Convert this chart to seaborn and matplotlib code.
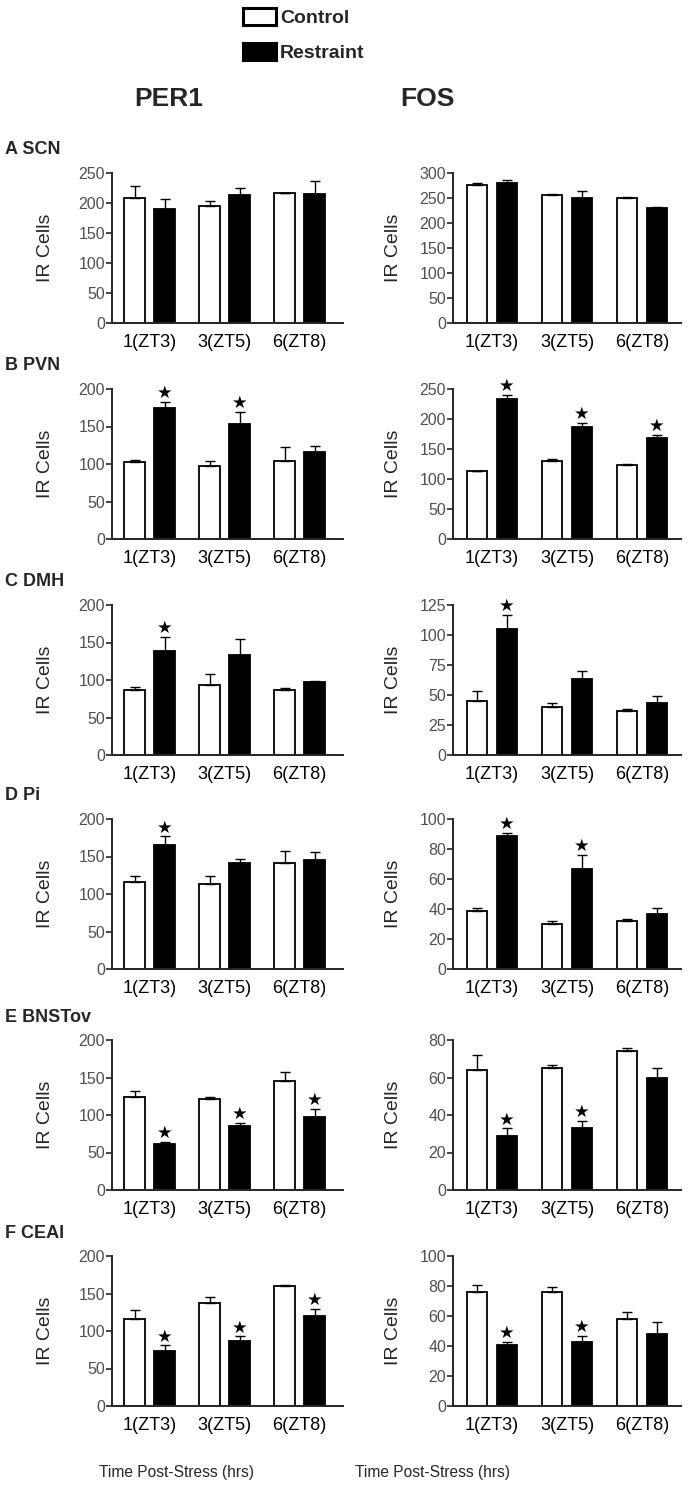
import numpy as np
import pandas as pd
import matplotlib
matplotlib.use('Agg')
import matplotlib.pyplot as plt
import seaborn as sns

# categories
times = ['1(ZT3)', '3(ZT5)', '6(ZT8)']
groups = ['Control', 'Restraint']
regions = ['A SCN', 'B PVN', 'C DMH', 'D Pi', 'E BNSTov', 'F CEAl']

# PER1 immunoreactive cells (mean, sem), one row per region
per1_ctrl = [[209, 195, 217], [103, 97, 104], [87, 93, 87], [116, 114, 142], [124, 121, 146], [116, 137, 160]]
per1_ctrl_err = [[19, 8, 0], [3, 7, 19], [4, 15, 3], [8, 10, 16], [8, 3, 12], [12, 8, 2]]
per1_rest = [[190, 213, 215], [175, 153, 116], [139, 134, 98], [165, 142, 145], [62, 86, 98], [73, 87, 120]]
per1_rest_err = [[17, 12, 22], [8, 17, 8], [19, 21, 1], [12, 5, 11], [2, 4, 10], [8, 6, 10]]
per1_sig = [[0, 0, 0], [1, 1, 0], [1, 0, 0], [1, 0, 0], [1, 1, 1], [1, 1, 1]]
per1_ymax = [250, 200, 200, 200, 200, 200]
per1_step = [50, 50, 50, 50, 50, 50]

# FOS immunoreactive cells
fos_ctrl = [[277, 257, 250], [113, 130, 124], [45, 40, 37], [39, 30, 32], [64, 65, 74], [76, 76, 58]]
fos_ctrl_err = [[4, 1, 2], [1, 4, 1.5], [8, 3, 1], [1.5, 2, 1.5], [8, 1.5, 2], [5, 3.5, 4.5]]
fos_rest = [[280, 251, 230], [233, 187, 169], [105, 63, 43], [89, 67, 37], [29, 33, 60], [41, 43, 48]]
fos_rest_err = [[6, 13, 2], [7, 7, 5], [12, 7, 6], [2, 9, 4], [4, 4, 5], [2, 4, 8]]
fos_sig = [[0, 0, 0], [1, 1, 1], [1, 0, 0], [1, 1, 0], [1, 1, 0], [1, 1, 0]]
fos_ymax = [300, 250, 125, 100, 80, 100]
fos_step = [50, 50, 25, 20, 20, 20]

sns.set_style('ticks')
plt.rcParams['font.family'] = ['Liberation Sans', 'DejaVu Sans']

W, H = 696, 1488
fig = plt.figure(figsize=(W / 100, H / 100), dpi=100)

row_tops = [173, 389, 605, 819, 1040, 1256]
ax_h = 150
cols = [(112, 231, (-0.5, 2.58), -0.286), (453, 228, (-0.52, 2.52), -0.263)]
genes = [
    (per1_ctrl, per1_ctrl_err, per1_rest, per1_rest_err, per1_sig, per1_ymax, per1_step),
    (fos_ctrl, fos_ctrl_err, fos_rest, fos_rest_err, fos_sig, fos_ymax, fos_step),
]

for r in range(6):
    for c in range(2):
        ctrl, ctrl_err, rest, rest_err, sig, ymax, step = genes[c]
        x0, w, xlim, ylab_x = cols[c]
        ax = fig.add_axes([x0 / W, 1 - (row_tops[r] + ax_h) / H, w / W, ax_h / H])
        df = pd.DataFrame({
            'time': times * 2,
            'group': ['Control'] * 3 + ['Restraint'] * 3,
            'cells': ctrl[r] + rest[r],
        })
        sns.barplot(data=df, x='time', y='cells', hue='group', order=times, hue_order=groups,
                    palette={'Control': 'white', 'Restraint': 'black'}, edgecolor='black',
                    linewidth=1.3, width=0.8, gap=0.33, errorbar=None,
                    legend=(r == 0 and c == 0), ax=ax)
        bars = list(ax.containers[:2])
        for cont, err in zip(bars, [ctrl_err[r], rest_err[r]]):
            xs = [p.get_x() + p.get_width() / 2 for p in cont]
            ys = [p.get_height() for p in cont]
            ax.errorbar(xs, ys, yerr=[np.zeros(len(err)), err], fmt='none', ecolor='black',
                        elinewidth=1, capsize=3.5, capthick=1, zorder=1)
        # significance stars above the restraint bars
        for p, e, s in zip(bars[1], rest_err[r], sig[r]):
            if s:
                ax.annotate('★', xy=(p.get_x() + p.get_width() / 2, p.get_height() + e),
                            xytext=(0, 0.5), textcoords='offset points', ha='center', va='bottom',
                            fontsize=12.5, color='black')

        ax.set_xlim(*xlim)
        ax.set_ylim(0, ymax[r])
        ax.set_yticks(np.arange(0, ymax[r] + 1, step[r]))
        ax.tick_params(axis='y', length=4, width=1.2, labelsize=11.5, labelcolor='#505050', pad=1)
        ax.tick_params(axis='x', length=0, labelsize=13, labelcolor='black', pad=8)
        for sp in ['left', 'bottom']:
            ax.spines[sp].set_linewidth(1.4)
        sns.despine(ax=ax)
        ax.set_ylabel('IR Cells', fontsize=14, va='center')
        ax.yaxis.set_label_coords(ylab_x, 0.5)
        if r == 5:
            ax.set_xlabel('Time Post-Stress (hrs)', fontsize=11.2, va='center')
            lab_x = 0.28 if c == 0 else -0.09
            ax.xaxis.set_label_coords(lab_x, -(1470 - 1404) / ax_h)
        else:
            ax.set_xlabel('')

        if r == 0 and c == 0:
            sns.move_legend(ax, 'upper left', bbox_to_anchor=(243 / W, 1 - 8 / H),
                            bbox_transform=fig.transFigure, frameon=False, title='',
                            borderpad=0, borderaxespad=0, handlelength=1.7, handleheight=1.0,
                            handletextpad=0.2, labelspacing=0.8,
                            prop={'weight': 'bold', 'size': 14})
            for h in ax.get_legend().legend_handles:
                h.set_edgecolor('black')
                h.set_linewidth(2.2)

    fig.text(5 / W, 1 - (row_tops[r] - 23) / H, regions[r], fontsize=13, fontweight='bold',
             ha='left', va='center')

fig.text(169 / W, 1 - 99 / H, 'PER1', fontsize=19, fontweight='bold',
         ha='center', va='center')
fig.text(427 / W, 1 - 99 / H, 'FOS', fontsize=19, fontweight='bold',
         ha='center', va='center')

fig.savefig('out.png', dpi=100)
